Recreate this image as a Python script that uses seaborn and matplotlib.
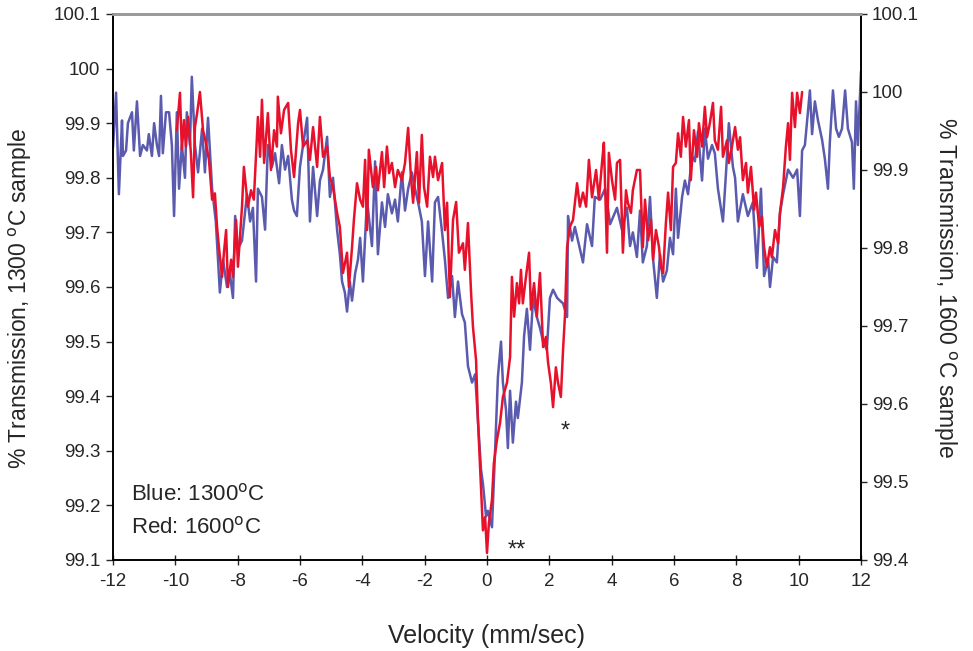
import matplotlib
matplotlib.use("Agg")
import matplotlib.pyplot as plt
import seaborn as sns
import pandas as pd

# 1300 C sample (blue), read on the left axis
blue_v = [-12.00, -11.90, -11.87, -11.81, -11.71, -11.68, -11.58, -11.52, -11.39, -11.33,
          -11.23, -11.13, -11.04, -10.91, -10.85, -10.75, -10.68, -10.59, -10.52, -10.46,
          -10.40, -10.30, -10.20, -10.11, -10.04, -9.95, -9.88, -9.79, -9.69, -9.63,
          -9.53, -9.47, -9.37, -9.27, -9.14, -9.05, -8.95, -8.82, -8.70, -8.57,
          -8.47, -8.34, -8.25, -8.15, -8.08, -7.99, -7.86, -7.70, -7.60, -7.51,
          -7.41, -7.35, -7.22, -7.12, -7.03, -6.90, -6.80, -6.67, -6.58, -6.48,
          -6.38, -6.26, -6.19, -6.10, -6.00, -5.90, -5.77, -5.68, -5.58, -5.45,
          -5.36, -5.26, -5.13, -5.04, -4.94, -4.81, -4.72, -4.65, -4.56, -4.49,
          -4.40, -4.33, -4.23, -4.14, -4.07, -3.98, -3.85, -3.69, -3.59, -3.50,
          -3.37, -3.27, -3.18, -3.05, -2.95, -2.86, -2.73, -2.63, -2.53, -2.41,
          -2.31, -2.21, -2.09, -1.99, -1.89, -1.76, -1.67, -1.57, -1.44, -1.35,
          -1.25, -1.12, -1.03, -0.93, -0.80, -0.71, -0.61, -0.48, -0.38, -0.29,
          -0.19, -0.13, -0.03, 0.03, 0.16, 0.26, 0.35, 0.45, 0.51, 0.61,
          0.67, 0.74, 0.83, 0.93, 0.99, 1.12, 1.19, 1.28, 1.38, 1.48,
          1.60, 1.70, 1.80, 1.92, 2.02, 2.12, 2.25, 2.34, 2.44, 2.57,
          2.60, 2.73, 2.82, 2.92, 3.08, 3.21, 3.37, 3.46, 3.63, 3.79,
          3.95, 4.17, 4.33, 4.49, 4.59, 4.68, 4.81, 4.91, 5.00, 5.13,
          5.23, 5.33, 5.45, 5.55, 5.65, 5.77, 5.87, 5.97, 6.06, 6.13,
          6.26, 6.35, 6.45, 6.58, 6.67, 6.77, 6.90, 6.99, 7.09, 7.22,
          7.31, 7.41, 7.57, 7.67, 7.76, 7.89, 7.96, 8.05, 8.21, 8.37,
          8.53, 8.66, 8.79, 8.89, 9.02, 9.08, 9.18, 9.30, 9.40, 9.50,
          9.66, 9.82, 9.95, 10.04, 10.11, 10.20, 10.36, 10.43, 10.52, 10.62,
          10.75, 10.84, 10.94, 11.00, 11.10, 11.20, 11.29, 11.39, 11.49, 11.58,
          11.71, 11.77, 11.84, 11.90, 12.00]
blue_t = [99.856, 99.956, 99.89, 99.77, 99.905, 99.84, 99.85, 99.90, 99.92, 99.85,
          99.94, 99.84, 99.86, 99.85, 99.88, 99.84, 99.90, 99.86, 99.84, 99.95,
          99.845, 99.92, 99.92, 99.86, 99.73, 99.92, 99.78, 99.86, 99.80, 99.92,
          99.86, 99.985, 99.86, 99.81, 99.89, 99.81, 99.91, 99.78, 99.72, 99.59,
          99.65, 99.60, 99.625, 99.58, 99.73, 99.67, 99.685, 99.77, 99.72, 99.745,
          99.61, 99.78, 99.765, 99.705, 99.86, 99.82, 99.845, 99.79, 99.86, 99.815,
          99.84, 99.76, 99.74, 99.73, 99.82, 99.86, 99.91, 99.72, 99.82, 99.73,
          99.795, 99.815, 99.875, 99.765, 99.80, 99.705, 99.66, 99.61, 99.59, 99.555,
          99.61, 99.575, 99.625, 99.65, 99.69, 99.61, 99.76, 99.675, 99.83, 99.66,
          99.755, 99.71, 99.77, 99.735, 99.76, 99.72, 99.81, 99.74, 99.78, 99.81,
          99.78, 99.755, 99.72, 99.62, 99.72, 99.61, 99.755, 99.765, 99.70, 99.65,
          99.58, 99.62, 99.545, 99.61, 99.55, 99.535, 99.455, 99.425, 99.44, 99.355,
          99.265, 99.24, 99.18, 99.19, 99.16, 99.30, 99.435, 99.50, 99.425, 99.375,
          99.305, 99.41, 99.315, 99.39, 99.36, 99.425, 99.51, 99.56, 99.485, 99.58,
          99.545, 99.525, 99.50, 99.485, 99.58, 99.595, 99.58, 99.575, 99.57, 99.545,
          99.73, 99.685, 99.71, 99.685, 99.645, 99.715, 99.675, 99.765, 99.76, 99.78,
          99.715, 99.745, 99.705, 99.745, 99.675, 99.70, 99.655, 99.74, 99.645, 99.675,
          99.765, 99.65, 99.58, 99.66, 99.61, 99.63, 99.69, 99.66, 99.78, 99.69,
          99.765, 99.795, 99.77, 99.84, 99.83, 99.885, 99.795, 99.89, 99.835, 99.86,
          99.845, 99.78, 99.72, 99.81, 99.90, 99.82, 99.80, 99.72, 99.77, 99.73,
          99.755, 99.635, 99.78, 99.62, 99.65, 99.60, 99.655, 99.645, 99.735, 99.77,
          99.815, 99.80, 99.815, 99.73, 99.85, 99.86, 99.96, 99.88, 99.94, 99.905,
          99.87, 99.835, 99.78, 99.865, 99.96, 99.89, 99.875, 99.89, 99.96, 99.89,
          99.865, 99.78, 99.94, 99.86, 99.995]

# 1600 C sample (red), read on the right axis
red_v = [-9.95, -9.85, -9.79, -9.72, -9.66, -9.59, -9.50, -9.43, -9.37, -9.30,
         -9.21, -9.11, -9.02, -8.92, -8.82, -8.73, -8.66, -8.60, -8.50, -8.44,
         -8.37, -8.31, -8.21, -8.15, -8.05, -7.99, -7.86, -7.80, -7.67, -7.57,
         -7.48, -7.35, -7.28, -7.22, -7.15, -7.03, -6.93, -6.83, -6.74, -6.71,
         -6.61, -6.51, -6.38, -6.29, -6.19, -6.06, -6.00, -5.90, -5.77, -5.68,
         -5.58, -5.45, -5.36, -5.26, -5.13, -5.04, -4.94, -4.81, -4.72, -4.62,
         -4.49, -4.43, -4.33, -4.27, -4.17, -4.07, -3.98, -3.91, -3.85, -3.79,
         -3.66, -3.56, -3.50, -3.37, -3.30, -3.21, -3.14, -3.05, -2.95, -2.86,
         -2.73, -2.63, -2.53, -2.44, -2.37, -2.25, -2.18, -2.09, -2.02, -1.92,
         -1.83, -1.73, -1.67, -1.57, -1.44, -1.35, -1.28, -1.19, -1.09, -0.99,
         -0.90, -0.77, -0.71, -0.61, -0.51, -0.45, -0.35, -0.29, -0.22, -0.13,
         -0.06, 0.00, 0.06, 0.16, 0.22, 0.32, 0.42, 0.51, 0.64, 0.74,
         0.80, 0.87, 0.96, 1.03, 1.09, 1.15, 1.25, 1.35, 1.41, 1.51,
         1.60, 1.70, 1.80, 1.89, 1.96, 2.05, 2.12, 2.21, 2.28, 2.37,
         2.44, 2.50, 2.57, 2.66, 2.76, 2.89, 2.98, 3.08, 3.18, 3.27,
         3.37, 3.50, 3.59, 3.69, 3.75, 3.85, 3.91, 4.01, 4.11, 4.17,
         4.27, 4.36, 4.46, 4.52, 4.62, 4.68, 4.81, 4.91, 5.00, 5.07,
         5.17, 5.26, 5.33, 5.42, 5.52, 5.58, 5.65, 5.74, 5.81, 5.90,
         5.97, 6.06, 6.13, 6.22, 6.29, 6.38, 6.48, 6.54, 6.64, 6.74,
         6.80, 6.90, 6.99, 7.06, 7.15, 7.25, 7.31, 7.41, 7.51, 7.57,
         7.70, 7.76, 7.86, 7.96, 8.05, 8.12, 8.21, 8.31, 8.37, 8.47,
         8.57, 8.63, 8.73, 8.82, 8.89, 8.98, 9.08, 9.14, 9.24, 9.34,
         9.40, 9.50, 9.59, 9.66, 9.72, 9.79, 9.88, 9.95, 10.04, 10.11]
red_t = [99.951, 99.999, 99.926, 99.964, 99.93, 99.968, 99.922, 99.865, 99.955, 99.973,
         100.0, 99.951, 99.935, 99.913, 99.862, 99.87, 99.827, 99.801, 99.763, 99.794,
         99.823, 99.75, 99.785, 99.763, 99.836, 99.776, 99.853, 99.904, 99.853, 99.874,
         99.862, 99.968, 99.917, 99.99, 99.909, 99.973, 99.90, 99.951, 99.93, 99.994,
         99.947, 99.977, 99.986, 99.926, 99.891, 99.96, 99.977, 99.93, 99.938, 99.913,
         99.955, 99.904, 99.968, 99.917, 99.93, 99.891, 99.878, 99.845, 99.827, 99.768,
         99.794, 99.75, 99.801, 99.836, 99.883, 99.862, 99.853, 99.913, 99.823, 99.926,
         99.878, 99.904, 99.874, 99.923, 99.878, 99.93, 99.896, 99.909, 99.878, 99.90,
         99.887, 99.909, 99.954, 99.891, 99.858, 99.923, 99.858, 99.945, 99.878, 99.853,
         99.917, 99.891, 99.917, 99.887, 99.909, 99.823, 99.858, 99.737, 99.836, 99.859,
         99.794, 99.806, 99.772, 99.832, 99.742, 99.699, 99.656, 99.58, 99.519, 99.438,
         99.455, 99.409, 99.447, 99.477, 99.524, 99.554, 99.576, 99.609, 99.627, 99.66,
         99.763, 99.712, 99.755, 99.729, 99.772, 99.729, 99.763, 99.794, 99.721, 99.755,
         99.712, 99.768, 99.673, 99.686, 99.653, 99.627, 99.596, 99.647, 99.627, 99.609,
         99.669, 99.712, 99.801, 99.827, 99.836, 99.883, 99.853, 99.871, 99.853, 99.913,
         99.865, 99.90, 99.862, 99.909, 99.935, 99.794, 99.922, 99.887, 99.862, 99.909,
         99.913, 99.794, 99.874, 99.858, 99.845, 99.874, 99.90, 99.90, 99.801, 99.862,
         99.81, 99.836, 99.785, 99.823, 99.801, 99.776, 99.768, 99.832, 99.871, 99.823,
         99.904, 99.909, 99.947, 99.917, 99.968, 99.93, 99.964, 99.887, 99.951, 99.917,
         99.96, 99.93, 99.981, 99.942, 99.96, 99.986, 99.938, 99.926, 99.981, 99.917,
         99.938, 99.909, 99.93, 99.955, 99.926, 99.942, 99.887, 99.909, 99.871, 99.904,
         99.849, 99.871, 99.827, 99.84, 99.801, 99.776, 99.801, 99.788, 99.823, 99.806,
         99.845, 99.878, 99.93, 99.96, 99.913, 99.999, 99.955, 99.999, 99.973, 100.0]

x_ticks = [-12, -10, -8, -6, -4, -2, 0, 2, 4, 6, 8, 10, 12]
left_ticks = [99.1, 99.2, 99.3, 99.4, 99.5, 99.6, 99.7, 99.8, 99.9, 100.0, 100.1]
right_ticks = [99.4, 99.5, 99.6, 99.7, 99.8, 99.9, 100.0, 100.1]

blue_df = pd.DataFrame({"v": blue_v, "t": blue_t})
red_df = pd.DataFrame({"v": red_v, "t": red_t})

sns.set_style("ticks")
plt.rcParams["font.family"] = ["Liberation Sans", "DejaVu Sans"]

fig = plt.figure(figsize=(9.73, 6.51), dpi=100)
ax = fig.add_axes([0.1161, 0.1398, 0.7688, 0.8387])
ax2 = ax.twinx()

sns.lineplot(data=blue_df, x="v", y="t", ax=ax, color="#5A5AAE", lw=1.8,
             estimator=None, sort=False)
sns.lineplot(data=red_df, x="v", y="t", ax=ax2, color="#E8112B", lw=1.8,
             estimator=None, sort=False)

ax.set_xlim(-12, 12)
ax.set_ylim(99.1, 100.1)
ax2.set_ylim(99.4, 100.1)
ax.set_xticks(x_ticks)
ax.set_xticklabels([str(t) for t in x_ticks])
ax.set_yticks(left_ticks)
ax.set_yticklabels(["100" if abs(t - 100) < 1e-9 else f"{t:.1f}" for t in left_ticks])
ax2.set_yticks(right_ticks)
ax2.set_yticklabels(["100" if abs(t - 100) < 1e-9 else f"{t:.1f}" for t in right_ticks])

for a in (ax, ax2):
    for s in ("left", "right", "bottom"):
        a.spines[s].set_color("black")
        a.spines[s].set_linewidth(1.2)
    a.spines["top"].set_color("#9a9a9a")
    a.spines["top"].set_linewidth(2)
ax.tick_params(axis="y", direction="out", length=5, width=1, labelsize=13.5, pad=4)
ax.tick_params(axis="x", direction="inout", length=7, width=1, labelsize=13.5, pad=6)
ax2.tick_params(axis="y", direction="out", length=4, width=1, labelsize=13.5, pad=4)

ax.set_xlabel("Velocity (mm/sec)", fontsize=18, labelpad=24)
ax.set_ylabel("% Transmission, 1300 $^{\\mathrm{o}}$C sample", fontsize=16.5)
ax.yaxis.set_label_coords(-0.106, 0.478)
ax2.set_ylabel("% Transmission, 1600 $^{\\mathrm{o}}$C sample", fontsize=16.5,
               rotation=270, labelpad=28)

ax.text(0.024, 0.121, "Blue: 1300$^{\\mathrm{o}}$C", transform=ax.transAxes,
        fontsize=16, va="center", ha="left")
ax.text(0.024, 0.060, "Red: 1600$^{\\mathrm{o}}$C", transform=ax.transAxes,
        fontsize=16, va="center", ha="left")
ax.text(2.5, 99.335, "*", fontsize=17, ha="center", va="center")
ax.text(0.96, 99.118, "**", fontsize=17, ha="center", va="center")

fig.savefig("out.png", dpi=100)
